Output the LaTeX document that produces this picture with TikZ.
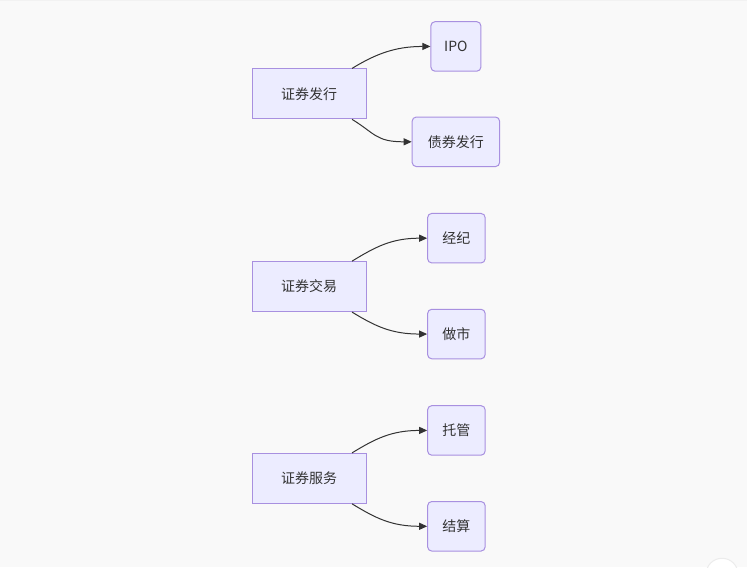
\documentclass[tikz,border=0pt]{standalone}
\usepackage{fontspec}
\setmainfont{Noto Sans CJK SC}
\usetikzlibrary{arrows.meta}
\definecolor{bgc}{HTML}{F9F9F9}
\definecolor{nfill}{HTML}{ECECFF}
\definecolor{nline}{HTML}{A890E0}
\definecolor{txt}{HTML}{333333}
\tikzset{
  mainbox/.style={draw=nline, fill=nfill, line width=1pt, minimum width=114pt, minimum height=50pt, inner sep=0pt, text=txt, font=\fontsize{14}{17}\selectfont},
  subbox/.style={draw=nline, fill=nfill, line width=1pt, rounded corners=4pt, minimum height=49.5pt, inner sep=0pt, text=txt, font=\fontsize{14}{17}\selectfont},
  link/.style={draw=txt, line width=1pt, -{Triangle[length=8pt,width=7pt]}}
}
\begin{document}
\begin{tikzpicture}[x=1pt,y=-1pt]
\fill[bgc] (0,0) rectangle (747,568);
\draw[white!90!gray, line width=1pt] (0,0.5) -- (747,0.5);
\useasboundingbox (0,0) rectangle (747,568);
% group 1
\node[mainbox] (m1) at (309,94) {证券发行};
\node[subbox, minimum width=50pt] (a1) at (456,46.5) {IPO};
\node[subbox, minimum width=87.5pt] (b1) at (456,142) {债券发行};
% group 2
\node[mainbox] (m2) at (309,287) {证券交易};
\node[subbox, minimum width=57.5pt] (a2) at (456.5,238.5) {经纪};
\node[subbox, minimum width=57.5pt] (b2) at (456.5,334.5) {做市};
% group 3
\node[mainbox] (m3) at (309,479) {证券服务};
\node[subbox, minimum width=57.5pt] (a3) at (456.5,431) {托管};
\node[subbox, minimum width=57.5pt] (b3) at (456.5,527) {结算};
% connectors
\foreach \g in {1,2,3}{
  \path[link] ([xshift=43pt]m\g.north) .. controls +(23,-14) and +(-36,0) .. (a\g.west);
  \path[link] ([xshift=43pt]m\g.south) .. controls +(23,14) and +(-36,0) .. (b\g.west);
}
% corner button
\draw[fill=white, draw=gray!15, line width=1pt] (722.5,575) circle (16);
\end{tikzpicture}
\end{document}
